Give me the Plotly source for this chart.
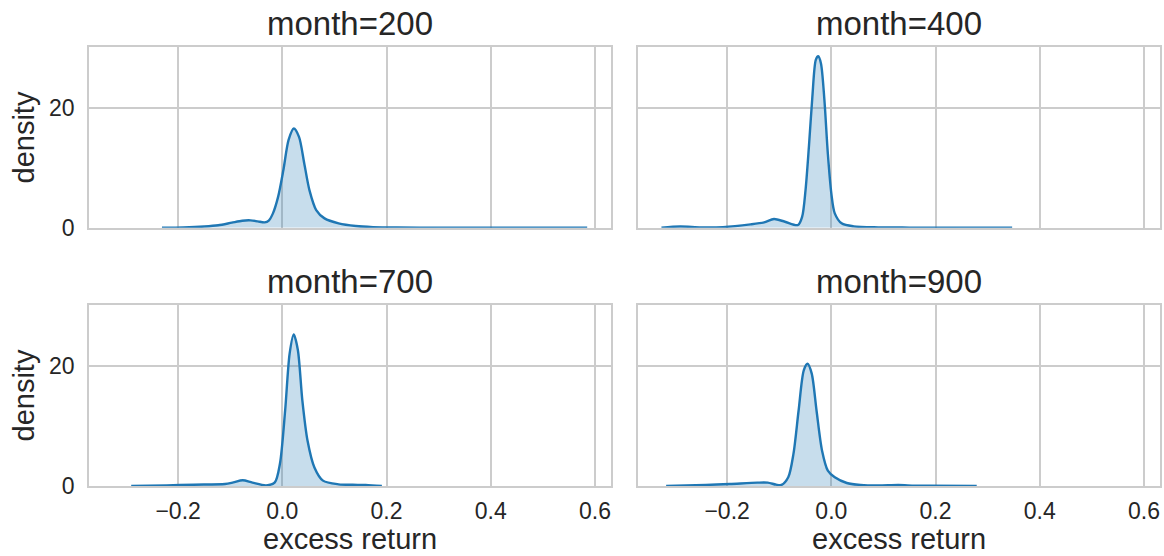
import plotly.graph_objects as go

# ---- data ----
titles = ["month=200", "month=400", "month=700", "month=900"]

x_200 = [-0.231, -0.19, -0.15, -0.123, -0.097, -0.077, -0.061, -0.047, -0.034, -0.026, -0.018,
         -0.008, 0.002, 0.012, 0.022, 0.032, 0.042, 0.052, 0.065, 0.081, 0.108, 0.141, 0.174,
         0.22, 0.3, 0.4, 0.5, 0.585]
d_200 = [0.0, 0.05, 0.2, 0.4, 0.84, 1.17, 1.23, 1.06, 0.89, 1.2, 2.4,
         5.2, 9.65, 14.7, 16.6, 15.2, 10.8, 6.3, 2.96, 1.56, 0.73, 0.28, 0.1,
         0.03, 0.01, 0.01, 0.01, 0.0]

x_400 = [-0.326, -0.29, -0.25, -0.208, -0.155, -0.129, -0.110, -0.089, -0.064, -0.056, -0.0495,
         -0.043, -0.0364, -0.0298, -0.0251, -0.0199, -0.0133, -0.0067, 0.0, 0.0066, 0.0197,
         0.043, 0.09, 0.15, 0.25, 0.347]
d_400 = [0.0, 0.2, 0.05, 0.1, 0.56, 0.9, 1.45, 1.0, 0.45, 1.84, 6.3,
         13.6, 21.9, 28.1, 28.7, 27.5, 21.4, 12.4, 5.75, 2.4, 0.73,
         0.22, 0.05, 0.02, 0.01, 0.0]

x_700 = [-0.29, -0.222, -0.17, -0.11, -0.094, -0.076, -0.0574, -0.031, -0.0144, -0.0046, 0.0054,
         0.014, 0.0219, 0.0298, 0.0384, 0.0483, 0.0616, 0.078, 0.108, 0.135, 0.16, 0.191]
d_700 = [0.0, 0.1, 0.22, 0.33, 0.6, 0.95, 0.56, 0.11, 0.6, 3.7, 12.6,
         22.1, 25.3, 22.7, 14.3, 7.6, 3.1, 0.9, 0.28, 0.2, 0.17, 0.0]

x_900 = [-0.317, -0.241, -0.195, -0.142, -0.122, -0.106, -0.0958, -0.0827, -0.0727, -0.0628,
         -0.0529, -0.0456, -0.0376, -0.0284, -0.0178, -0.0067, 0.0066, 0.0297, 0.056, 0.09,
         0.1287, 0.16, 0.188, 0.279]
d_900 = [0.0, 0.17, 0.33, 0.56, 0.56, 0.22, 0.17, 1.45, 5.36, 12.6,
         19.3, 20.4, 18.75, 12.6, 5.9, 2.57, 1.45, 0.5, 0.17, 0.08,
         0.17, 0.06, 0.05, 0.0]

x_ticks = [-0.2, 0.0, 0.2, 0.4, 0.6]
x_ticktext = ["\u22120.2", "0.0", "0.2", "0.4", "0.6"]
y_ticks = [0, 20]
x_label = "excess return"
y_label = "density"

# ---- figure ----
W, H = 1164, 556
FONT = "Liberation Sans, Arial, sans-serif"
TXT = "#262626"
GRID = "#cccccc"
BLUE = "#1f77b4"

series = [(x_200, d_200), (x_400, d_400), (x_700, d_700), (x_900, d_900)]
axes = [("x", "y"), ("x2", "y2"), ("x3", "y3"), ("x4", "y4")]

fig = go.Figure()
for (xs, ds), (xa, ya) in zip(series, axes):
    fig.add_trace(go.Scatter(
        x=xs, y=ds, xaxis=xa, yaxis=ya, mode="lines",
        line=dict(color=BLUE, width=2.4, shape="spline", smoothing=0.8),
        fill="tozeroy", fillcolor="rgba(31,119,180,0.25)",
        showlegend=False, hoverinfo="skip",
    ))

def px_x(p):
    return p / W

def px_y(p):
    return 1 - p / H

xdom_left = [px_x(89), px_x(611)]
xdom_right = [px_x(638), px_x(1160)]
ydom_top = [px_y(227.7), px_y(47.3)]
ydom_bot = [px_y(486), px_y(305)]

xrange_ = [-0.371, 0.6307]
yrange_ = [0, 30.2]

def xax(domain, anchor, labels):
    return dict(domain=domain, anchor=anchor, range=xrange_, tickvals=x_ticks,
                ticktext=x_ticktext, showticklabels=labels, showgrid=True,
                gridcolor=GRID, gridwidth=1.5, zeroline=False, showline=True,
                mirror=True, linecolor=GRID, linewidth=1.5, ticks="",
                tickfont=dict(family=FONT, size=23, color=TXT),
                ticklabelstandoff=4, fixedrange=True, automargin=False)

def yax(domain, anchor, labels):
    return dict(domain=domain, anchor=anchor, range=yrange_, tickvals=y_ticks,
                showticklabels=labels, showgrid=True, gridcolor=GRID, gridwidth=1.5,
                zeroline=False, showline=True, mirror=True, linecolor=GRID,
                linewidth=1.5, ticks="", tickfont=dict(family=FONT, size=23, color=TXT),
                ticklabelstandoff=8, fixedrange=True, automargin=False)

fig.update_layout(
    width=W, height=H,
    margin=dict(l=0, r=0, t=0, b=0, pad=0, autoexpand=False),
    paper_bgcolor="white", plot_bgcolor="white",
    xaxis=xax(xdom_left, "y", False),
    xaxis2=xax(xdom_right, "y2", False),
    xaxis3=xax(xdom_left, "y3", True),
    xaxis4=xax(xdom_right, "y4", True),
    yaxis=yax(ydom_top, "x", True),
    yaxis2=yax(ydom_top, "x2", False),
    yaxis3=yax(ydom_bot, "x3", True),
    yaxis4=yax(ydom_bot, "x4", False),
)

cx_left = (89 + 611) / 2
cx_right = (638 + 1160) / 2
ann = []
title_pos = [(cx_left, 23.6), (cx_right, 23.6), (cx_left, 281.5), (cx_right, 281.5)]
for t, (cx, cy) in zip(titles, title_pos):
    ann.append(dict(text=t, x=px_x(cx), y=px_y(cy), xref="paper", yref="paper",
                    xanchor="center", yanchor="middle", showarrow=False,
                    font=dict(family=FONT, size=33, color=TXT)))
for cx in (cx_left, cx_right):
    ann.append(dict(text=x_label, x=px_x(cx), y=px_y(539), xref="paper", yref="paper",
                    xanchor="center", yanchor="middle", showarrow=False,
                    font=dict(family=FONT, size=29, color=TXT)))
for cy in ((227.7 + 47.3) / 2, (486 + 305) / 2):
    ann.append(dict(text=y_label, x=px_x(23), y=px_y(cy), xref="paper", yref="paper",
                    xanchor="center", yanchor="middle", showarrow=False, textangle=-90,
                    font=dict(family=FONT, size=29, color=TXT)))
fig.update_layout(annotations=ann)

fig.write_html("out.html", config={"displayModeBar": False},
               post_script="document.body.style.margin='0px';")
